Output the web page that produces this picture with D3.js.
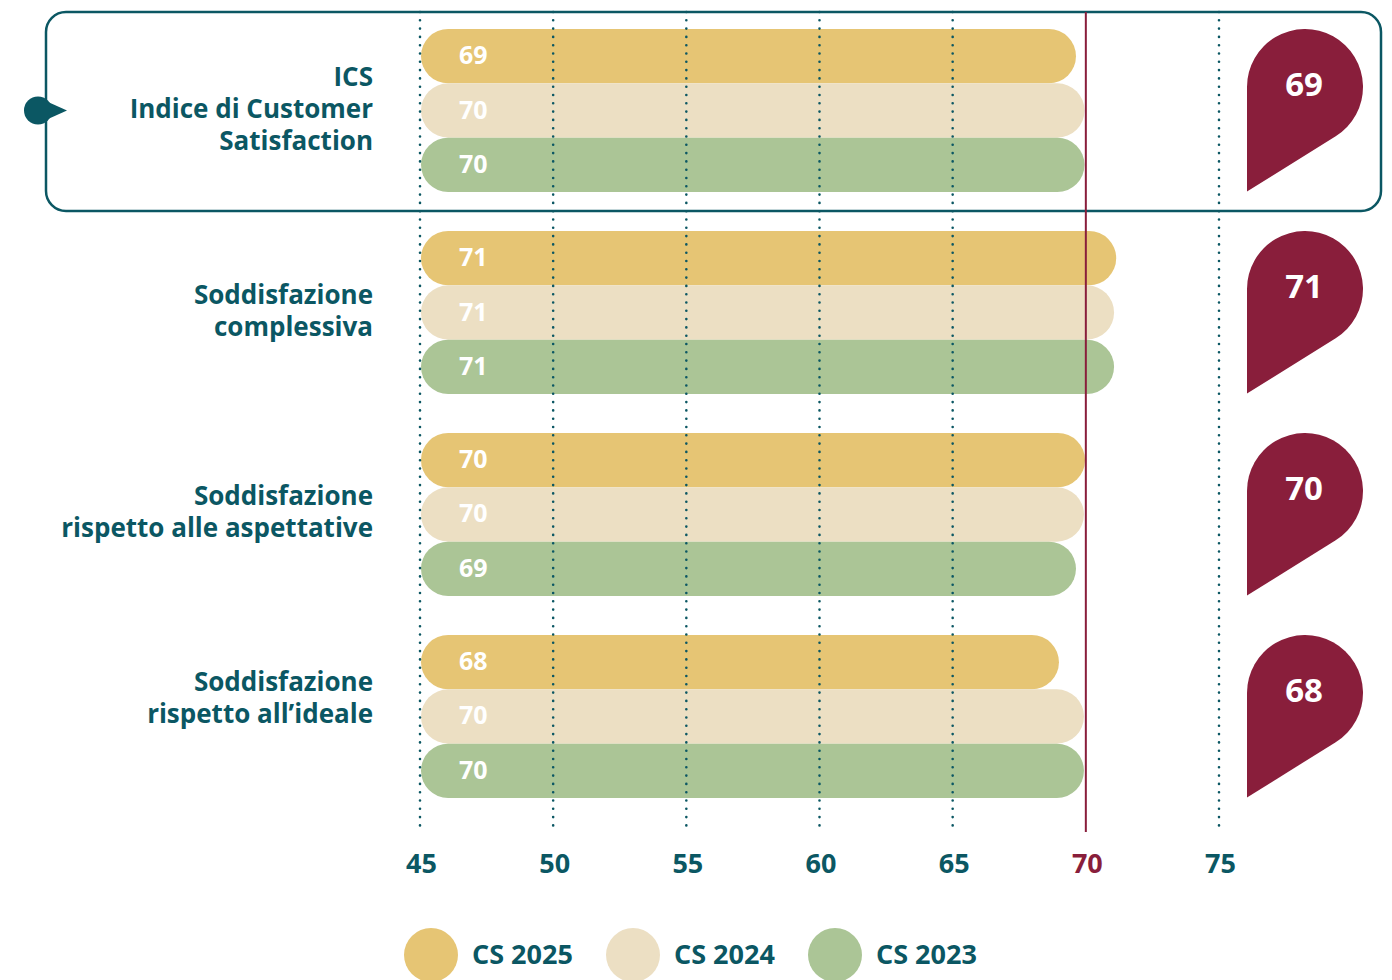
<!DOCTYPE html>
<html>
<head>
<meta charset="utf-8">
<script src="https://cdn.jsdelivr.net/npm/d3@7"></script>
<style>
  html, body { margin: 0; padding: 0; background: #ffffff; }
  svg { display: block; }
  text { font-family: "Open Sans", "Noto Sans", sans-serif; font-weight: 700; }
</style>
</head>
<body>
<svg id="chart" width="1392" height="980"></svg>
<script>
// ---------- DATA ----------
const categories = [
  ["ICS", "Indice di Customer", "Satisfaction"],
  ["Soddisfazione", "complessiva"],
  ["Soddisfazione", "rispetto alle aspettative"],
  ["Soddisfazione", "rispetto all\u2019ideale"]
];
const seriesNames = ["CS 2025", "CS 2024", "CS 2023"];
// bar lengths
const values2025 = [69.63, 71.14, 69.97, 68.99];
const values2024 = [69.95, 71.06, 69.93, 69.93];
const values2023 = [69.95, 71.06, 69.63, 69.93];
// printed scores
const labels2025 = [69, 71, 70, 68];
const labels2024 = [70, 71, 70, 70];
const labels2023 = [70, 71, 69, 70];
const tickValues = [45, 50, 55, 60, 65, 70, 75];
const referenceValue = 70;
const highlightedCategory = 0;

// ---------- STYLE ----------
const seriesColors = ["#e6c574", "#ecdfc3", "#abc596"];
const teal = "#0b5763";
const wine = "#891e3b";

const svg = d3.select("#chart");

const x = d3.scaleLinear().domain([45, 75]).range([420, 1219]);
const catKeys = categories.map((c, i) => i);
const y0 = d3.scaleBand().domain(catKeys).range([29, 798]).paddingInner(0.193).paddingOuter(0);
const y1 = d3.scaleBand().domain(seriesNames).range([0, y0.bandwidth()]).padding(0);

const seriesValues = [values2025, values2024, values2023];
const seriesLabels = [labels2025, labels2024, labels2023];

// highlight box
const hb = y0(highlightedCategory);
svg.append("rect")
  .attr("x", 46).attr("y", hb - 17)
  .attr("width", 1335).attr("height", y0.bandwidth() + 36)
  .attr("rx", 20)
  .attr("fill", "none").attr("stroke", teal).attr("stroke-width", 2.5);

// arrow marker on box
const ay = hb + y0.bandwidth() / 2;
svg.append("circle").attr("cx", 38).attr("cy", ay).attr("r", 14).attr("fill", teal);
svg.append("path")
  .attr("d", `M38,${ay - 13} L67,${ay} L38,${ay + 13} Z`)
  .attr("fill", teal);

// bars
const rows = [];
categories.forEach((c, ci) => {
  seriesNames.forEach((s, si) => {
    rows.push({ ci, si, s, v: seriesValues[si][ci], lab: seriesLabels[si][ci] });
  });
});

const bh = y1.bandwidth();
const bars = svg.append("g");
bars.selectAll("rect").data(rows).join("rect")
  .attr("x", x(45) + 1)
  .attr("y", d => y0(d.ci) + y1(d.s))
  .attr("width", d => x(d.v) - x(45) - 1)
  .attr("height", bh)
  .attr("rx", bh / 2)
  .attr("fill", d => seriesColors[d.si]);

bars.selectAll("text").data(rows).join("text")
  .attr("x", x(45) + 39)
  .attr("y", d => y0(d.ci) + y1(d.s) + bh / 2 + 8)
  .attr("fill", "#ffffff")
  .attr("font-size", 25)
  .text(d => d.lab);

// grid lines (dotted) and reference line
const gridTop = 12, gridBottom = 832;
svg.append("g").selectAll("line")
  .data(tickValues.filter(t => t !== referenceValue)).join("line")
  .attr("x1", d => x(d)).attr("x2", d => x(d))
  .attr("y1", gridTop).attr("y2", gridBottom)
  .attr("stroke", teal).attr("stroke-width", 2.6)
  .attr("stroke-linecap", "round")
  .attr("stroke-dasharray", "0 8.3");

svg.append("line")
  .attr("x1", x(referenceValue)).attr("x2", x(referenceValue))
  .attr("y1", gridTop).attr("y2", gridBottom)
  .attr("stroke", wine).attr("stroke-width", 2);

// axis tick labels
const axis = d3.axisBottom(x).tickValues(tickValues).tickSize(0).tickPadding(0);
const ag = svg.append("g").attr("transform", "translate(1,852)").call(axis);
ag.select(".domain").remove();
ag.selectAll("text")
  .attr("font-size", 27)
  .attr("font-family", "'Open Sans', sans-serif")
  .attr("font-weight", 700)
  .attr("dy", "0.78em")
  .attr("fill", d => d === referenceValue ? wine : teal);

// category labels
const lineH = 32;
const labelShift = [0, 0, 0, -16];
categories.forEach((lines, ci) => {
  const cy = y0(ci) + y0.bandwidth() / 2 + labelShift[ci];
  const firstBase = cy - (lines.length - 1) * lineH / 2 + 7;
  const t = svg.append("text")
    .attr("text-anchor", "end")
    .attr("fill", teal)
    .attr("font-size", 26);
  lines.forEach((ln, li) => {
    t.append("tspan").attr("x", 373).attr("y", firstBase + li * lineH).text(ln);
  });
});

// pins
const pr = 58;
catKeys.forEach(ci => {
  const top = y0(ci);
  const cx = 1305, cy = top + pr;
  const tipX = cx - pr, tipY = top + y0.bandwidth() - 0.5;
  const dx = tipX - cx, dy = tipY - cy;
  const d = Math.hypot(dx, dy);
  const theta = Math.atan2(dy, dx);
  const a = theta - Math.acos(pr / d);
  const tx = cx + pr * Math.cos(a), ty = cy + pr * Math.sin(a);
  svg.append("path")
    .attr("d", `M${cx - pr},${cy} A${pr},${pr} 0 1 1 ${tx},${ty} L${tipX},${tipY} Z`)
    .attr("fill", wine);
  svg.append("text")
    .attr("x", cx - 1).attr("y", cy + 9)
    .attr("text-anchor", "middle")
    .attr("fill", "#ffffff")
    .attr("font-size", 33)
    .text(labels2025[ci]);
});

// legend
const legendX = [431, 633, 835];
seriesNames.forEach((s, si) => {
  svg.append("circle").attr("cx", legendX[si]).attr("cy", 955).attr("r", 27).attr("fill", seriesColors[si]);
  svg.append("text").attr("x", legendX[si] + 41).attr("y", 964)
    .attr("fill", teal).attr("font-size", 27).text(s);
});
</script>
</body>
</html>
